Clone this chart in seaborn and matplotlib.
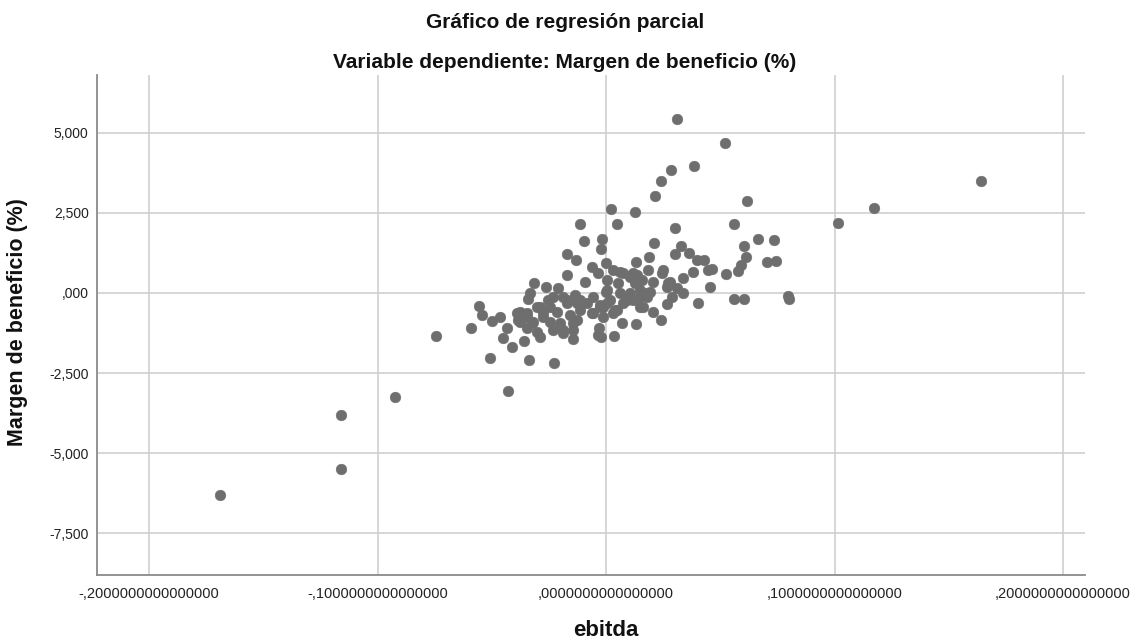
import matplotlib
matplotlib.use("Agg")
import matplotlib.pyplot as plt
from matplotlib.ticker import FixedLocator, FuncFormatter
import pandas as pd
import seaborn as sns

# Partial regression residuals: ebitda (x) vs. Margen de beneficio (y)
ebitda = [
    -0.1689, -0.1160, -0.1160, -0.0923, -0.0744, -0.0428, -0.0508, -0.0228,
    0.1015, 0.1173, 0.1641, 0.0797, 0.0801,
    0.0309, 0.0522, 0.0385, 0.0286, 0.0242, 0.0213, 0.0617, 0.0022, 0.0126,
    -0.0112, 0.0046, 0.0561, 0.0301,
    -0.0095, -0.0016, -0.0022, 0.0211, 0.0330, 0.0664, 0.0737, 0.0605,
    -0.0169, -0.0130, 0.0000, 0.0187, 0.0130, 0.0302, 0.0365, 0.0397, 0.0430,
    0.0611, 0.0703, 0.0743, 0.0589, 0.0579, 0.0524, 0.0455, 0.0382, 0.0448,
    0.0463, 0.0249, 0.0244, 0.0336, 0.0207, 0.0273, 0.0338, 0.0403, 0.0562,
    0.0605, 0.0266, 0.0207, 0.0241, 0.0130, 0.0071, 0.0035, -0.0021, -0.0034,
    -0.0029, -0.0144,
    0.0280, 0.0266, 0.0309, 0.0288, 0.0182, 0.0127, 0.0149, 0.0178, 0.0193,
    0.0032, 0.0061, 0.0003, 0.0054, 0.0105, 0.0134, 0.0156, 0.0003, 0.0061,
    0.0105, 0.0149, 0.0018, 0.0076, -0.0012, 0.0039, 0.0119, 0.0163,
    -0.0591, -0.0554, -0.0541, -0.0499, -0.0464, -0.0432, -0.0452, -0.0410,
    -0.0358, -0.0289, -0.0337, -0.0315, -0.0333, -0.0340, -0.0263, -0.0209,
    -0.0169, -0.0092, -0.0060, -0.0034,
    -0.0376, -0.0384, -0.0347, -0.0347, -0.0318, -0.0303, -0.0274, -0.0245,
    -0.0245, -0.0216, -0.0201, -0.0187, -0.0158, -0.0143, -0.0114, -0.0084,
    -0.0056, -0.0056, -0.0026, 0.0003, 0.0032, -0.0172, -0.0231, -0.0128,
    -0.0187, -0.0289, -0.0136,
    -0.0001, 0.0076, 0.0119, 0.0091, 0.0149, 0.0178, 0.0047, -0.0012, -0.0063,
    -0.0128, -0.0274, -0.0347, -0.0391, -0.0376, -0.0325, -0.0231, -0.0187,
    -0.0143, -0.0253, -0.0303, -0.0172, -0.0114, -0.0026,
]
margen = [
    -6.31, -3.81, -5.50, -3.25, -1.33, -3.06, -2.02, -2.19,
    2.19, 2.66, 3.50, -0.09, -0.19,
    5.45, 4.68, 3.97, 3.84, 3.49, 3.04, 2.87, 2.63, 2.52,
    2.16, 2.16, 2.16, 2.03,
    1.63, 1.70, 1.38, 1.55, 1.48, 1.69, 1.67, 1.48,
    1.23, 1.02, 0.93, 1.13, 0.97, 1.21, 1.24, 1.03, 1.03,
    1.13, 0.98, 1.01, 0.875, 0.70, 0.58, 0.20, 0.67, 0.72,
    0.74, 0.71, 0.63, 0.48, 0.35, 0.32, 0.00, -0.32, -0.20,
    -0.20, -0.35, -0.58, -0.84, -0.98, -0.93, -1.33, -1.37, -1.31,
    -1.08, -1.43,
    0.35, 0.20, 0.15, -0.12, 0.72, 0.30, 0.09, -0.12, 0.04,
    0.72, 0.67, 0.41, 0.30, 0.51, 0.56, 0.41, 0.09, -0.01,
    -0.01, -0.12, -0.22, -0.32, -0.43, -0.53, -0.22, -0.43,
    -1.10, -0.41, -0.69, -0.87, -0.76, -1.10, -1.40, -1.68,
    -1.49, -1.37, -2.09, 0.32, -0.01, -0.19, 0.18, 0.15,
    0.56, 0.33, 0.82, 0.62,
    -0.58, -0.84, -0.63, -1.10, -0.90, -1.21, -0.74, -0.43,
    -0.90, -0.58, -0.95, -1.26, -0.69, -0.95, -0.53, -0.32,
    -0.12, -0.63, -0.38, -0.32, -0.63, -0.32, -0.12, -0.32,
    -0.12, -0.43, -0.06,
    0.04, 0.62, 0.62, -0.22, -0.43, -0.01, -0.53, -0.74, -0.63,
    -0.84, -0.63, -0.74, -0.63, -0.90, -0.95, -1.16, -1.16,
    -1.16, -0.22, -0.43, -0.22, -0.22, -0.43,
]

x_ticks = [-0.2, -0.1, 0.0, 0.1, 0.2]
y_ticks = [-7.5, -5.0, -2.5, 0.0, 2.5, 5.0]

title_1 = "Gráfico de regresión parcial"
title_2 = "Variable dependiente: Margen de beneficio (%)"
x_label = "ebitda"
y_label = "Margen de beneficio (%)"

df = pd.DataFrame({x_label: ebitda, y_label: margen})

sns.set_theme(style="white")
plt.rcParams["font.family"] = ["Liberation Sans", "DejaVu Sans"]

fig = plt.figure(figsize=(11.3, 6.43), dpi=100)
ax = fig.add_axes([97 / 1130, 1 - 575 / 643, (1085 - 97) / 1130, (575 - 75) / 643])

sns.scatterplot(data=df, x=x_label, y=y_label, ax=ax, color="#6e6e6e",
                s=60, edgecolor="#6e6e6e", linewidth=0.3, zorder=3, legend=False)

ax.set_xlim(-0.2228, 0.2096)
ax.set_ylim(-8.81, 6.81)


def spss_decimal(value, places):
    txt = f"{abs(value):.{places}f}".replace(".", ",")
    if txt.startswith("0,"):
        txt = txt[1:]
    return ("-" if value < 0 else "") + txt


ax.xaxis.set_major_locator(FixedLocator(x_ticks))
ax.yaxis.set_major_locator(FixedLocator(y_ticks))
ax.xaxis.set_major_formatter(FuncFormatter(lambda v, p: spss_decimal(v, 16)))
ax.yaxis.set_major_formatter(FuncFormatter(lambda v, p: spss_decimal(v, 3)))

ax.grid(True, color="#cfcfcf", linewidth=1.2, zorder=0)
ax.set_axisbelow(True)
for side in ("top", "right"):
    ax.spines[side].set_visible(False)
for side in ("left", "bottom"):
    ax.spines[side].set_color("#8a8a8a")
    ax.spines[side].set_linewidth(1.3)

ax.tick_params(axis="both", length=0, labelcolor="#222222")
ax.tick_params(axis="y", pad=6, labelsize=10)
ax.tick_params(axis="x", pad=9, labelsize=10.5)
ax.set_xlabel("")
ax.set_ylabel("")

fig.text(0.5, 1 - 22 / 643, title_1, ha="center", va="center",
         fontsize=15, fontweight="bold", color="#111111")
fig.text(0.5, 1 - 62 / 643, title_2, ha="center", va="center",
         fontsize=15, fontweight="bold", color="#111111")
fig.text(606 / 1130, 1 - 630 / 643, x_label, ha="center", va="center",
         fontsize=16, fontweight="bold", color="#111111")
fig.text(18 / 1130, 1 - 322 / 643, y_label, ha="center", va="center",
         rotation=90, fontsize=15.5, fontweight="bold", color="#111111")

fig.savefig("out.png", dpi=100)
